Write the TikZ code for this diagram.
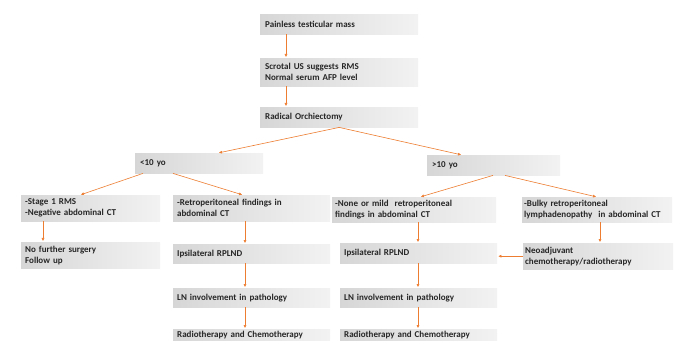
\documentclass[tikz,border=0pt]{standalone}
\usepackage{fontspec}
\setmainfont{Carlito}
\usetikzlibrary{arrows.meta}
\definecolor{arrorange}{RGB}{237,125,49}
\definecolor{boxtxt}{RGB}{38,38,38}
\tikzset{
  fbox/.style={anchor=north west, left color=gray!32, right color=gray!10,
    inner xsep=5pt, inner ysep=2pt, align=left, text=boxtxt,
    font=\bfseries\fontsize{9}{10.8}\selectfont},
  arr/.style={draw=arrorange, line width=0.6pt, shorten >=1pt,
    -{Triangle[length=3pt,width=2.6pt]}}
}
\begin{document}
\begin{tikzpicture}[x=1pt,y=-1pt]
\useasboundingbox (0,0) rectangle (678,342);
\clip (0,0) rectangle (678,342);
\node[fbox, text width=148pt, minimum height=20pt] (mass) at (260,14){Painless testicular mass};
\node[fbox, text width=148pt, minimum height=28pt] (scrotal) at (260,58){Scrotal US suggests RMS\\Normal serum AFP level};
\node[fbox, text width=148pt, minimum height=20pt] (orchi) at (260,107){Radical Orchiectomy};
\draw[arr] ([xshift=26pt]mass.south west) -- ([xshift=26pt]scrotal.north west);
\draw[arr] ([xshift=26pt]scrotal.south west) -- ([xshift=26pt]orchi.north west);

\node[fbox, text width=118pt, minimum height=20pt] (lt10) at (135,153){<10 yo};
\node[fbox, text width=123pt, minimum height=20pt] (gt10) at (427,155){>10 yo};
\draw[arr] (orchi.south) -- ([xshift=83pt]lt10.north west);
\draw[arr] (orchi.south) -- ([xshift=35pt]gt10.north west);

\node[fbox, text width=131pt, inner xsep=4pt, minimum height=26pt] (stage1) at (21,195){-Stage 1 RMS\\-Negative abdominal CT};
\node[fbox, text width=149pt, inner xsep=4pt, minimum height=26pt] (retro) at (173,195){-Retroperitoneal findings in\\abdominal CT};
\node[fbox, text width=158pt, inner xsep=3pt, minimum height=25pt] (none) at (332,197){-None or mild~ retroperitoneal\\findings in abdominal CT};
\node[fbox, text width=146pt, inner xsep=2pt, minimum height=25pt] (bulky) at (522,197){-Bulky retroperitoneal\\lymphadenopathy~ in abdominal CT};
\draw[arr] ([xshift=8pt]lt10.south west) -- ([xshift=59pt]stage1.north west);
\draw[arr] ([xshift=38pt]lt10.south west) -- ([xshift=70pt]retro.north west);
\draw[arr] ([xshift=66pt]gt10.south west) -- ([xshift=88pt]none.north west);
\draw[arr] ([xshift=78pt]gt10.south west) -- ([xshift=75pt]bulky.north west);

\node[fbox, text width=131pt, inner xsep=4pt, minimum height=26pt] (nofurther) at (21,242){No further surgery\\Follow up};
\node[fbox, text width=149pt, inner xsep=4pt, minimum height=19pt] (ipsiL) at (173,244){Ipsilateral RPLND};
\node[fbox, text width=149pt, inner xsep=4pt, minimum height=19pt] (lnL) at (173,288){LN involvement in pathology};
\node[fbox, text width=149pt, inner xsep=4pt, inner ysep=2pt] (radioL) at (173,329){Radiotherapy and Chemotherapy};
\draw[arr] ([xshift=22pt]stage1.south west) -- ([xshift=22pt]nofurther.north west);
\draw[arr] ([xshift=72pt]retro.south west) -- ([xshift=72pt]ipsiL.north west);
\draw[arr] ([xshift=72pt]ipsiL.south west) -- ([xshift=72pt]lnL.north west);
\draw[arr] ([xshift=72pt]lnL.south west) -- ([xshift=72pt]radioL.north west);

\node[fbox, text width=149pt, inner xsep=4pt, minimum height=20pt] (ipsiR) at (340,243){Ipsilateral RPLND};
\node[fbox, text width=149pt, inner xsep=4pt, minimum height=19pt] (lnR) at (340,288){LN involvement in pathology};
\node[fbox, text width=149pt, inner xsep=4pt, inner ysep=2pt] (radioR) at (340,329){Radiotherapy and Chemotherapy};
\node[fbox, text width=146pt, inner xsep=2pt, minimum height=26pt] (neo) at (523,243){Neoadjuvant\\chemotherapy/radiotherapy};
\draw[arr] ([xshift=86pt]none.south west) -- ([xshift=78pt]ipsiR.north west);
\draw[arr] ([xshift=78pt]ipsiR.south west) -- ([xshift=78pt]lnR.north west);
\draw[arr] ([xshift=78pt]lnR.south west) -- ([xshift=78pt]radioR.north west);
\draw[arr] ([xshift=78pt]bulky.south west) -- ([xshift=77pt]neo.north west);
\draw[arr] (neo.west) -- (neo.west -| ipsiR.east);

\end{tikzpicture}
\end{document}
